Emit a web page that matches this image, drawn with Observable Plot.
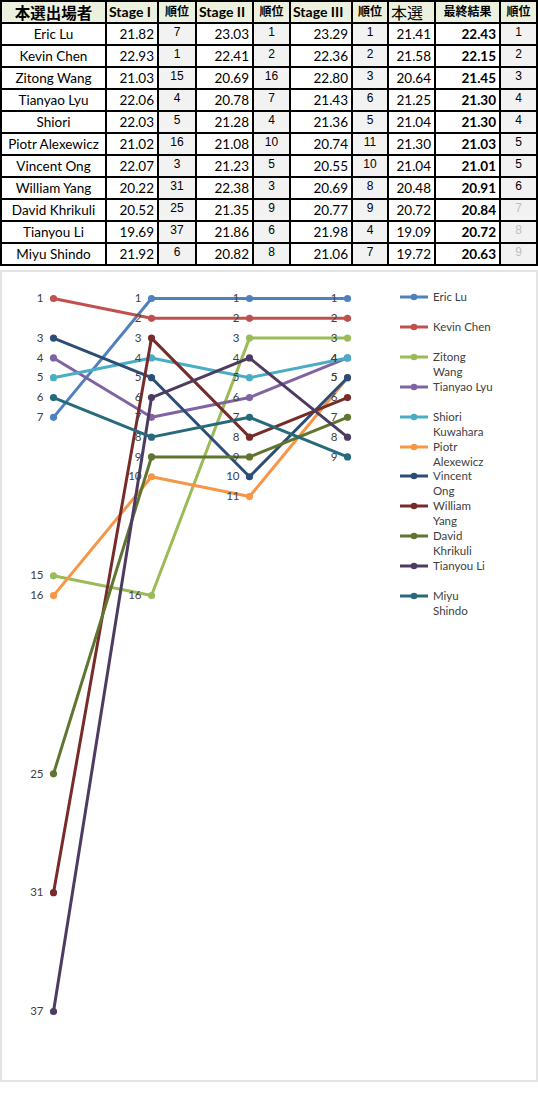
<!DOCTYPE html>
<html>
<head>
<meta charset="utf-8">
<script src="https://cdn.jsdelivr.net/npm/d3@7"></script>
<script src="https://cdn.jsdelivr.net/npm/@observablehq/plot@0.6"></script>
<style>
  body { margin: 0; background: #fff; width: 538px; height: 1101px; position: relative; overflow: hidden; }
  table { position: absolute; left: 0; top: 0; border-collapse: collapse; table-layout: fixed; width: 536px;
          font-family: Lato, "Noto Sans CJK JP", sans-serif; font-size: 13.5px; color: #000; }
  td, th { border: 2px solid #000; padding: 0 3px; height: 20px; line-height: 20px; white-space: nowrap; }
  th { background: #ebf1de; font-weight: bold; text-align: left; font-size: 14px; padding: 0 2px; }
  th.cjk { font-family: "Noto Sans CJK JP", sans-serif; font-size: 15.5px; text-align: center; }
  th.rk { font-family: "Noto Sans CJK JP", sans-serif; font-size: 12px; text-align: center; vertical-align: top; line-height: 17px; }
  th.plain { font-weight: normal; font-size: 16px; }
  td.name { text-align: center; }
  td.num { text-align: right; }
  td.bold { font-weight: bold; }
  td.rk { background: #f2f2f2; font-family: "Liberation Sans", Arial, sans-serif; font-size: 12px; text-align: center;
          vertical-align: top; line-height: 16px; }
  td.faint { color: #c0c0c0; }
  #frame { position: absolute; left: 0; top: 270px; width: 534px; height: 808px; border: 2px solid #e4e4e4; }
  #chart { position: absolute; left: 0; top: 0; }
  #legend { position: absolute; left: 398px; top: 0; font-family: Lato, sans-serif; font-size: 11.5px; color: #404040; }
  .item { position: absolute; left: 0; white-space: pre; line-height: 15px; }
  .item svg { position: absolute; left: 0; top: 0; }
  .item span { position: absolute; left: 33px; top: -8px; }
</style>
</head>
<body>
<table id="tbl"></table>
<div id="frame">
  <div id="chart"></div>
  <div id="legend"></div>
</div>
<script>
const players = ["Eric Lu", "Kevin Chen", "Zitong Wang", "Tianyao Lyu", "Shiori", "Piotr Alexewicz",
                 "Vincent Ong", "William Yang", "David Khrikuli", "Tianyou Li", "Miyu Shindo"];
const legendLabels = ["Eric Lu", "Kevin Chen", "Zitong\nWang", "Tianyao Lyu", "Shiori\nKuwahara", "Piotr\nAlexewicz",
                      "Vincent\nOng", "William\nYang", "David\nKhrikuli", "Tianyou Li", "Miyu\nShindo"];
const colors = ["#4f81bd", "#c0504d", "#9bbb59", "#8064a2", "#4bacc6", "#f79646",
                "#2c4d75", "#772c2a", "#5f7530", "#4d3b62", "#276a7c"];

const stages = ["Stage I", "Stage II", "Stage III", "最終結果"];

const scoreStage1 = [21.82, 22.93, 21.03, 22.06, 22.03, 21.02, 22.07, 20.22, 20.52, 19.69, 21.92];
const rankStage1  = [7, 1, 15, 4, 5, 16, 3, 31, 25, 37, 6];
const scoreStage2 = [23.03, 22.41, 20.69, 20.78, 21.28, 21.08, 21.23, 22.38, 21.35, 21.86, 20.82];
const rankStage2  = [1, 2, 16, 7, 4, 10, 5, 3, 9, 6, 8];
const scoreStage3 = [23.29, 22.36, 22.80, 21.43, 21.36, 20.74, 20.55, 20.69, 20.77, 21.98, 21.06];
const rankStage3  = [1, 2, 3, 6, 5, 11, 10, 8, 9, 4, 7];
const scoreMain   = [21.41, 21.58, 20.64, 21.25, 21.04, 21.30, 21.04, 20.48, 20.72, 19.09, 19.72];
const scoreFinal  = [22.43, 22.15, 21.45, 21.30, 21.30, 21.03, 21.01, 20.91, 20.84, 20.72, 20.63];
const rankFinal   = [1, 2, 3, 4, 4, 5, 5, 6, 7, 8, 9];

// table
const colWidths = [105, 52, 38, 57, 37, 62, 36, 47, 65, 37];
const tbl = d3.select("#tbl");
tbl.append("colgroup").selectAll("col").data(colWidths).join("col").style("width", d => d + "px");
const head = tbl.append("tr");
head.append("th").attr("class", "cjk").text("本選出場者");
head.append("th").text("Stage I");
head.append("th").attr("class", "rk").text("順位");
head.append("th").text("Stage II");
head.append("th").attr("class", "rk").text("順位");
head.append("th").text("Stage III");
head.append("th").attr("class", "rk").text("順位");
head.append("th").attr("class", "cjk plain").style("text-align", "left").text("本選");
head.append("th").attr("class", "rk").text("最終結果");
head.append("th").attr("class", "rk").text("順位");

players.forEach((p, i) => {
  const tr = tbl.append("tr");
  tr.append("td").attr("class", "name").text(p);
  tr.append("td").attr("class", "num").text(scoreStage1[i].toFixed(2));
  tr.append("td").attr("class", "rk").text(rankStage1[i]);
  tr.append("td").attr("class", "num").text(scoreStage2[i].toFixed(2));
  tr.append("td").attr("class", "rk").text(rankStage2[i]);
  tr.append("td").attr("class", "num").text(scoreStage3[i].toFixed(2));
  tr.append("td").attr("class", "rk").text(rankStage3[i]);
  tr.append("td").attr("class", "num").text(scoreMain[i].toFixed(2));
  tr.append("td").attr("class", "num bold").text(scoreFinal[i].toFixed(2));
  tr.append("td").attr("class", i >= 8 ? "rk faint" : "rk").text(rankFinal[i]);
});

// chart data, one row per player and stage
const rows = players.flatMap((p, i) =>
  [rankStage1[i], rankStage2[i], rankStage3[i], rankFinal[i]].map((r, j) => ({name: p, stage: stages[j], rank: r}))
);

let chart = Plot.plot({
  width: 534,
  height: 808,
  style: {background: "transparent", fontFamily: "Lato, sans-serif"},
  x: {type: "point", domain: stages, range: [50, 346], padding: 0, axis: null},
  y: {domain: [1, 37], range: [26, 739], axis: null},
  color: {domain: players, range: colors},
  marks: [
    ...players.flatMap(p => [
      Plot.line(rows.filter(d => d.name === p), {x: "stage", y: "rank", stroke: "name", strokeWidth: 3}),
      Plot.dot(rows.filter(d => d.name === p), {x: "stage", y: "rank", fill: "name", r: 3.6})
    ]),
    Plot.text(rows, {x: "stage", y: "rank", text: "rank", textAnchor: "end", dx: -10, fill: "#404040", fontSize: 11.5})
  ]
});
d3.select("#chart").append(() => chart);

// legend
const leg = d3.select("#legend");
legendLabels.forEach((lab, i) => {
  const it = leg.append("div").attr("class", "item").style("top", (25 + i * 29.9) + "px");
  const sw = it.append("svg").attr("width", 30).attr("height", 8).style("top", "-4px");
  sw.append("line").attr("x1", 0).attr("x2", 28).attr("y1", 4).attr("y2", 4)
    .attr("stroke", colors[i]).attr("stroke-width", 3);
  sw.append("circle").attr("cx", 14).attr("cy", 4).attr("r", 3.3).attr("fill", colors[i]);
  it.append("span").text(lab);
});
</script>
</body>
</html>
